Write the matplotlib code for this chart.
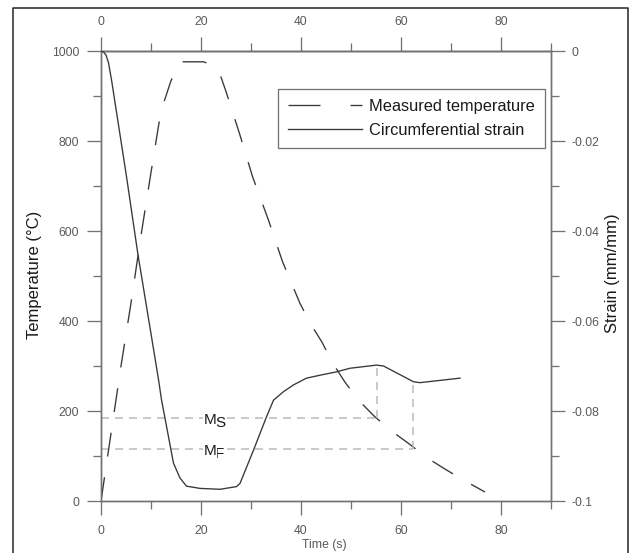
import numpy as np
import matplotlib
matplotlib.use("Agg")
import matplotlib.pyplot as plt
from matplotlib.lines import Line2D

plt.rcParams['font.family'] = ['Liberation Sans', 'DejaVu Sans']

# Measured temperature (deg C) against time (s)
temp_time = [0, 2, 4, 6, 8, 10, 11.6, 12.6, 14, 15.8, 20.5, 22, 23.5, 25, 27.8,
             30.3, 33.5, 36.3, 39.8, 42, 44.2, 46.2, 48.8, 51.5, 54.6, 57.8,
             61.5, 65.2, 68.8, 72.4, 76.8]
temp_vals = [0, 150, 300, 440, 590, 730, 840, 887, 934, 976, 976, 970, 958, 910,
             813, 721, 624, 532, 439, 392, 353, 309, 264, 224, 189, 158, 128,
             96, 71, 47, 20]

# Circumferential strain (mm/mm) against time (s)
strain_time = [0, 0.5, 1.0, 1.5, 2.1, 5.1, 7.4, 10.1, 11.5, 12.1, 14.5, 15.8,
               17.1, 19.8, 23.8, 27.1, 27.8, 30.5, 33.1, 34.5, 36.5, 38.5, 41.1,
               44, 47.1, 49.8, 55.1, 56.5, 62.5, 63.8, 71.8]
strain_vals = [0, -0.0002, -0.0009, -0.0026, -0.0064, -0.0279, -0.0453, -0.0635,
               -0.0730, -0.0775, -0.0916, -0.0949, -0.0967, -0.0972, -0.0974,
               -0.0968, -0.0961, -0.0887, -0.0813, -0.0776, -0.0757, -0.0742,
               -0.0727, -0.0720, -0.0713, -0.0705, -0.0698, -0.0700, -0.0735,
               -0.0737, -0.0727]

# Martensite start / finish temperatures and the times they are reached
ms_temp, ms_time = 185, 55.2
mf_temp, mf_time = 115, 62.3

x_ticks = [0, 20, 40, 60, 80]
temp_ticks = [0, 200, 400, 600, 800, 1000]
strain_ticks = [0, -0.02, -0.04, -0.06, -0.08, -0.1]
strain_ticklabels = ['0', '-0.02', '-0.04', '-0.06', '-0.08', '-0.1']

W, H = 633, 553
DPI = 100
fig = plt.figure(figsize=(W / DPI, H / DPI), dpi=DPI)
PX = 72.0 / DPI  # points per pixel

ax = fig.add_axes([101 / W, (H - 501) / H, 450 / W, 450 / H])
ax2 = ax.twinx()

axis_col = '#727272'
tick_txt = '#595959'
curve_col = '#3a3a3a'
guide_col = '#b9b9b9'

ax.set_xlim(0, 90)
ax.set_ylim(0, 1000)
ax2.set_ylim(-0.1, 0)

ax.set_xticks(x_ticks)
ax.set_xticks(np.arange(10, 91, 20), minor=True)
ax.set_yticks(temp_ticks)
ax.set_yticks(np.arange(100, 1000, 200), minor=True)
ax2.set_yticks(strain_ticks)
ax2.set_yticklabels(strain_ticklabels)
ax2.set_yticks(np.arange(-0.09, 0, 0.02), minor=True)

top = ax.secondary_xaxis('top')
top.set_xticks(x_ticks)
top.set_xticks(np.arange(10, 91, 20), minor=True)

for a in (ax, ax2, top):
    for sp in a.spines.values():
        sp.set_color(axis_col)
        sp.set_linewidth(1.4 * PX)
    a.tick_params(which='major', direction='out', length=14 * PX, width=1.3 * PX,
                  color=axis_col, labelcolor=tick_txt, labelsize=8.7)
    a.tick_params(which='minor', direction='out', length=8 * PX, width=1.3 * PX,
                  color=axis_col)

ax.tick_params(axis='y', which='major', pad=8 * PX)
ax.tick_params(axis='x', which='major', pad=10 * PX)
top.tick_params(axis='x', which='major', pad=9 * PX)
ax2.tick_params(axis='y', which='major', pad=7 * PX)

# Martensite start/finish guide lines
def temp_to_strain(t):
    y0, y1 = ax2.get_ylim()
    return y0 + (y1 - y0) * t / 1000.0

guide_kw = dict(color=guide_col, lw=1.5 * PX, zorder=1)
ms_top = np.interp(ms_time, strain_time, strain_vals)
mf_top = np.interp(mf_time, strain_time, strain_vals)
g1, = ax.plot([0, ms_time], [ms_temp, ms_temp], **guide_kw)
g2, = ax.plot([0, mf_time], [mf_temp, mf_temp], **guide_kw)
g3, = ax2.plot([ms_time, ms_time], [temp_to_strain(ms_temp), ms_top], **guide_kw)
g4, = ax2.plot([mf_time, mf_time], [temp_to_strain(mf_temp), mf_top], **guide_kw)
for g in (g1, g2, g3, g4):
    g.set_dashes([8 * PX / g.get_linewidth(), 6 * PX / g.get_linewidth()])

lw = 1.35 * PX
lt, = ax.plot(temp_time, temp_vals, color=curve_col, lw=lw, zorder=3,
              solid_capstyle='butt', dash_capstyle='butt')
lt.set_dashes([24 * PX / lw, 21 * PX / lw])
ls, = ax2.plot(strain_time, strain_vals, color=curve_col, lw=lw, zorder=3)

# Ms / Mf labels (subscript letters sit behind the M so they never hide it)
bb = dict(facecolor='white', edgecolor='none', pad=0.5)
lab_kw = dict(fontsize=11, color='#1a1a1a', va='baseline', ha='left')
ax.text(22.8, 165, 'S', bbox=bb, zorder=4, **lab_kw)
ax.text(20.5, 172, 'M', bbox=bb, zorder=5, **lab_kw)
ax.text(22.8, 96, 'F', bbox=bb, zorder=4, **lab_kw)
ax.text(20.5, 102, 'M', bbox=bb, zorder=5, **lab_kw)

# Legend
h_temp = Line2D([], [], color=curve_col, lw=lw, dashes=[32 * PX / lw, 30 * PX / lw])
h_strain = Line2D([], [], color=curve_col, lw=lw)
leg = ax2.legend([h_temp, h_strain], ['Measured temperature', 'Circumferential strain'],
                 loc='upper left', bbox_to_anchor=(278 / W, 1 - 89 / H),
                 bbox_transform=fig.transFigure, borderaxespad=0, fontsize=11.8,
                 handlelength=4.5, handletextpad=0.45, borderpad=0.62,
                 labelspacing=0.55, fancybox=False, framealpha=1)
leg.get_frame().set_edgecolor(axis_col)
leg.get_frame().set_linewidth(1.3 * PX)
for t in leg.get_texts():
    t.set_color('#1a1a1a')

# Axis titles
fig.text(34 / W, 1 - 275 / H, 'Temperature (°C)', rotation=90, ha='center',
         va='center', fontsize=12, color='#1a1a1a')
fig.text(612 / W, 1 - 273 / H, 'Strain (mm/mm)', rotation=90, ha='center',
         va='center', fontsize=12, color='#1a1a1a')
fig.text(324 / W, 1 - 545 / H, 'Time (s)', ha='center', va='center',
         fontsize=8.8, color=tick_txt)

# Outer frame (left, top, right edges)
fx = [12.5 / W, 12.5 / W, 628 / W, 628 / W]
fy = [0, 1 - 7.5 / H, 1 - 7.5 / H, 0]
fig.add_artist(Line2D(fx, fy, transform=fig.transFigure, color='#202020',
                      lw=1.5 * PX))

fig.savefig('out.png', dpi=DPI)
